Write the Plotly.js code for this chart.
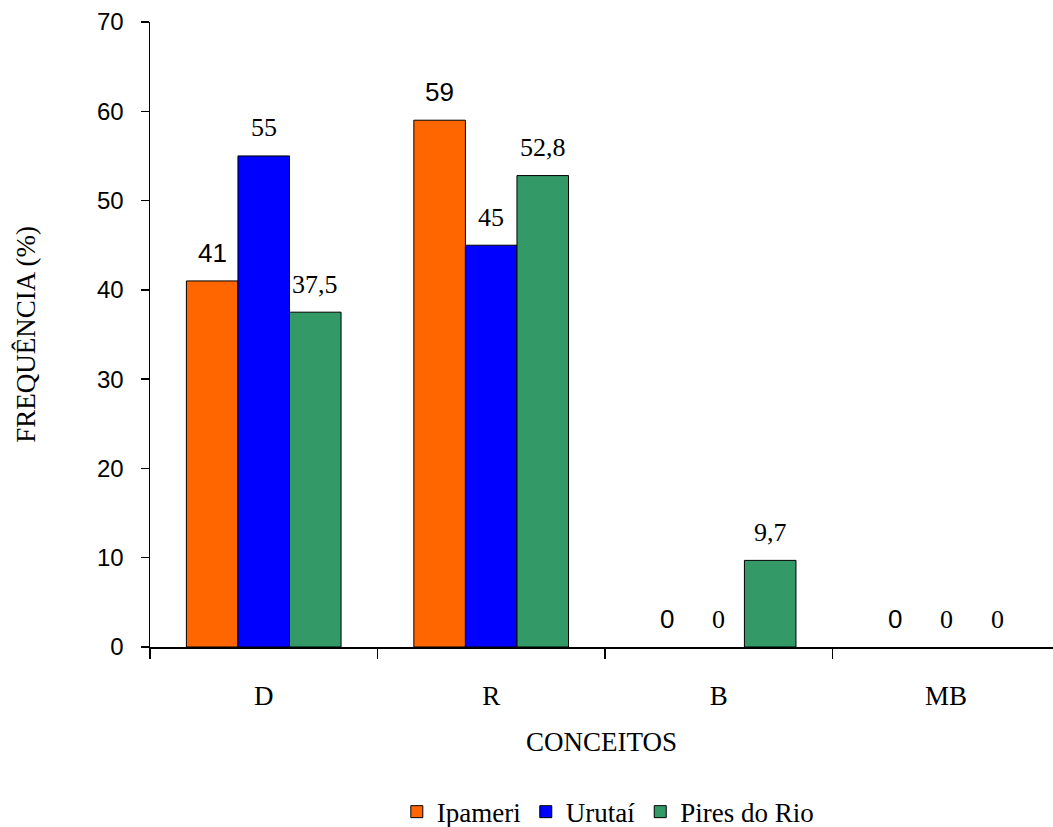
<!DOCTYPE html>
<html><head><meta charset="utf-8">
<script src="https://cdn.plot.ly/plotly-3.0.1.min.js"></script>
<style>body{margin:0;background:#fff}#chart{width:1053px;height:827px}</style>
</head><body><div id="chart"></div>
<script>
const categories = ['D', 'R', 'B', 'MB'];
const seriesNames = ['Ipameri', 'Urutaí', 'Pires do Rio'];
const ipameri = [41, 59, 0, 0];
const urutai = [55, 45, 0, 0];
const piresDoRio = [37.5, 52.8, 9.7, 0];
const colors = ['#FF6600', '#0000FF', '#339966'];

const SERIF = 'Liberation Serif';
const SANS = 'Liberation Sans';
const labelFonts = [SANS, SERIF, SERIF];
const labelSizes = [26, 26, 26];

const allSeries = [ipameri, urutai, piresDoRio];
const bargap = 0.32;
const barW = (1 - bargap) / allSeries.length;

const traces = allSeries.map((vals, i) => ({
  type: 'bar', name: seriesNames[i], x: categories, y: vals,
  marker: {color: colors[i], line: {color: '#000', width: vals.map(v => v === 0 ? 0 : 1)}},
  hoverinfo: 'none'
}));

const annotations = [];
allSeries.forEach((vals, i) => {
  vals.forEach((v, j) => {
    annotations.push({
      x: j + (i - (allSeries.length - 1) / 2) * barW, y: v,
      xref: 'x', yref: 'y', text: String(v).replace('.', ','),
      showarrow: false, yanchor: 'middle', yshift: 28,
      font: {family: labelFonts[i], size: labelSizes[i], color: '#000'}
    });
  });
});

const layout = {
  width: 1053, height: 827,
  margin: {l: 150, r: 0, t: 22, b: 180},
  paper_bgcolor: '#fff', plot_bgcolor: '#fff',
  font: {family: SERIF, color: '#000'},
  barmode: 'group', bargap: bargap, bargroupgap: 0,
  separators: ',.',
  showlegend: true,
  legend: {orientation: 'h', xref: 'paper', x: 0.507, xanchor: 'center',
    yref: 'container', y: 0.018, yanchor: 'middle',
    font: {family: SERIF, size: 27, color: '#000'},
    itemwidth: 30, traceorder: 'normal'},
  xaxis: {
    type: 'category', range: [-0.5, 3.47],
    showline: true, linecolor: '#000', linewidth: 1.5,
    ticks: 'outside', tickson: 'boundaries', ticklen: 10, tickcolor: '#000', tickwidth: 1.5,
    tickfont: {family: SERIF, size: 27, color: '#000'},
    ticklabelstandoff: 24,
    showgrid: false, zeroline: false,
    title: {text: 'CONCEITOS', standoff: 22, font: {family: SERIF, size: 27, color: '#000'}},
    automargin: false
  },
  yaxis: {
    range: [0, 70], dtick: 10, tick0: 0,
    showline: true, linecolor: '#000', linewidth: 1.5,
    ticks: 'outside', ticklen: 8, tickcolor: '#000', tickwidth: 1.5,
    tickfont: {family: SANS, size: 24, color: '#000'},
    ticklabelstandoff: 12,
    showgrid: false, zeroline: false,
    title: {text: 'FREQUÊNCIA (%)', standoff: 53, font: {family: SERIF, size: 27, color: '#000'}},
    automargin: false
  },
  annotations: annotations
};

Plotly.newPlot('chart', traces, layout, {displayModeBar: false, staticPlot: true});
</script></body></html>
